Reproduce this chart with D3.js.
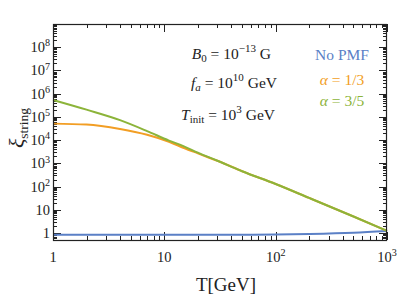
<!DOCTYPE html>
<html><head><meta charset="utf-8">
<script src="https://cdn.jsdelivr.net/npm/d3@7"></script>
<style>
html,body{margin:0;padding:0;background:#fff;}
svg text{font-family:"Liberation Serif","DejaVu Serif",serif;fill:#222;}
</style></head>
<body><svg id="c" width="407" height="296"></svg>
<script>
const T = [1, 2, 4, 7, 11, 15, 20, 30, 50, 100, 200, 500, 1000];
const xiNoPMF = [0.85, 0.85, 0.85, 0.84, 0.84, 0.84, 0.84, 0.84, 0.84, 0.86, 0.91, 1.03, 1.22];
const xiAlpha13 = [51300, 46800, 30200, 17000, 8500, 4570, 2690, 1290, 457, 129, 32.4, 5.13, 1.24];
const xiAlpha35 = [537000, 205000, 72400, 24500, 9550, 5400, 2880, 1290, 457, 129, 32.4, 5.13, 1.24];
const xTickVals = [1, 10, 100, 1000];
const xTickLabels = ["1", "10", "10^2", "10^3"];
const yTickVals = [1, 10, 1e2, 1e3, 1e4, 1e5, 1e6, 1e7, 1e8];
const yTickLabels = ["1", "10", "10^2", "10^3", "10^4", "10^5", "10^6", "10^7", "10^8"];
const seriesNames = ["No PMF", "α = 1/3", "α = 3/5"];
const colors = ["#5b80c6", "#f29e24", "#8cb43a"];

const svg = d3.select("#c");
const L = 53, R = 387, Tp = 24, B = 240;
const x = d3.scaleLog().domain([1, 1000]).range([L, R]);
const y = d3.scaleLog().domain([0.5, 1e9]).range([B, Tp]);

function supLabel(sel, s, fs) {
  const parts = s.split("^");
  sel.text(parts[0]);
  if (parts[1]) sel.append("tspan").attr("dy", -fs*0.4).attr("font-size", fs*0.7).text(parts[1]);
}

const xMinor = [];
for (let d = 1; d < 1000; d *= 10) for (let k = 2; k <= 9; k++) xMinor.push(d*k);
const yMinor = [];
for (let k = 5; k <= 9; k++) yMinor.push(k/10);
for (let d = 1; d < 1e9; d *= 10) for (let k = 2; k <= 9; k++) yMinor.push(d*k);

const g = svg.append("g");
const tk = g.append("g").attr("stroke", "#222").attr("stroke-width", 1);
xTickVals.forEach(v => {
  const px = Math.round(x(v)) + 0.5;
  tk.append("line").attr("x1", px).attr("x2", px).attr("y1", B).attr("y2", B-8);
  tk.append("line").attr("x1", px).attr("x2", px).attr("y1", Tp).attr("y2", Tp+8);
});
xMinor.forEach(v => {
  const px = Math.round(x(v)) + 0.5;
  tk.append("line").attr("x1", px).attr("x2", px).attr("y1", B).attr("y2", B-4);
  tk.append("line").attr("x1", px).attr("x2", px).attr("y1", Tp).attr("y2", Tp+4);
});
yTickVals.forEach(v => {
  const py = Math.round(y(v)) + 0.5;
  tk.append("line").attr("x1", L).attr("x2", L+8).attr("y1", py).attr("y2", py);
  tk.append("line").attr("x1", R).attr("x2", R-8).attr("y1", py).attr("y2", py);
});
yMinor.forEach(v => {
  const py = Math.round(y(v)) + 0.5;
  tk.append("line").attr("x1", L).attr("x2", L+4).attr("y1", py).attr("y2", py);
  tk.append("line").attr("x1", R).attr("x2", R-4).attr("y1", py).attr("y2", py);
});

const line = d3.line().x((d,i) => x(T[i])).y(d => y(d)).curve(d3.curveMonotoneX);
[xiNoPMF, xiAlpha13, xiAlpha35].forEach((s, i) => {
  g.append("path").attr("d", line(s)).attr("fill", "none")
    .attr("stroke", colors[i]).attr("stroke-width", 2);
});

g.append("rect").attr("x", L+0.5).attr("y", Tp+0.5).attr("width", R-L-1).attr("height", B-Tp)
  .attr("fill", "none").attr("stroke", "#222").attr("stroke-width", 1.2);

xTickVals.forEach((v, i) => {
  const t = g.append("text").attr("x", x(v)).attr("y", 262).attr("text-anchor", "middle").attr("font-size", 14.5);
  supLabel(t, xTickLabels[i], 14.5);
});
yTickVals.forEach((v, i) => {
  const t = g.append("text").attr("x", 50).attr("y", y(v) + 5).attr("text-anchor", "end").attr("font-size", 14.5);
  supLabel(t, yTickLabels[i], 14.5);
});

g.append("text").attr("x", (L+R)/2 + 6).attr("y", 291).attr("text-anchor", "middle").attr("font-size", 19).text("T[GeV]");
const yl = g.append("text").attr("transform", "translate(24,128) rotate(-90)").attr("text-anchor", "middle");
yl.append("tspan").attr("font-size", 22).attr("font-style", "italic").text("ξ");
yl.append("tspan").attr("font-size", 13.5).attr("dy", 4).text("string");

function ann(xp, yp, parts) {
  const t = g.append("text").attr("x", xp).attr("y", yp).attr("text-anchor", "end").attr("font-size", 15.5);
  parts.forEach(p => {
    const ts = t.append("tspan").text(p.t);
    if (p.i) ts.attr("font-style", "italic");
    if (p.sub) ts.attr("font-size", 11).attr("dy", 3);
    if (p.sup) ts.attr("font-size", 11).attr("dy", -7);
    if (p.back) ts.attr("dy", p.back);
  });
}
ann(271, 59, [{t:"B", i:1}, {t:"0", sub:1}, {t:" = 10", back:-3}, {t:"−13", sup:1}, {t:"  G", back:7}]);
ann(277, 88, [{t:"f", i:1}, {t:"a", sub:1, i:1}, {t:" = 10", back:-3}, {t:"10", sup:1}, {t:" GeV", back:7}]);
ann(275, 120, [{t:"T", i:1}, {t:"init", sub:1}, {t:" = 10", back:-3}, {t:"3", sup:1}, {t:"  GeV", back:7}]);

const leg = [[342, 60], [342, 85], [342, 106]];
seriesNames.forEach((n, i) => {
  const t = g.append("text").attr("x", leg[i][0]).attr("y", leg[i][1]).attr("text-anchor", "middle")
    .attr("font-size", 15.5).style("fill", colors[i]);
  if (i === 0) t.text(n);
  else { t.append("tspan").attr("font-style", "italic").text("α"); t.append("tspan").text(n.slice(1)); }
});
</script></body></html>
